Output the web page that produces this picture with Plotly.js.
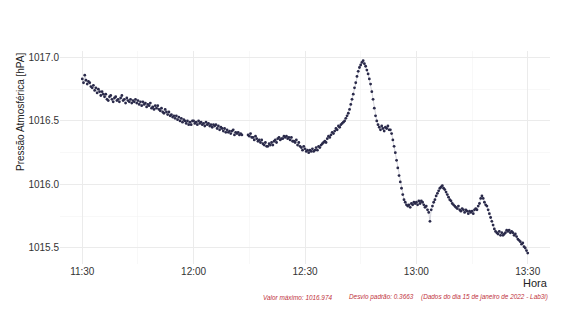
<!DOCTYPE html>
<html>
<head>
<meta charset="utf-8">
<script src="https://cdn.plot.ly/plotly-3.0.1.min.js"></script>
<style>
html,body{margin:0;padding:0;background:#fff;}
#chart{width:565px;height:317px;}
</style>
</head>
<body>
<div id="chart"></div>
<script>
// Sampling: one reading every 20 s starting 2022-01-15 11:30:00
var startDate = "2022-01-15";
var startHour = 11, startMinute = 30;
var intervalSeconds = 20;

// Pressure readings (hPa), 11:30 - 12:00
var p1130 = [
 1016.83,1016.80,1016.86, 1016.82,1016.79,1016.81, 1016.80,1016.77,1016.76, 1016.78,1016.74,1016.76,
 1016.72,1016.75,1016.73, 1016.70,1016.73,1016.71, 1016.69,1016.71,1016.67, 1016.66,1016.69,1016.70,
 1016.67,1016.65,1016.68, 1016.69,1016.66,1016.67, 1016.65,1016.68,1016.70, 1016.66,1016.67,1016.64,
 1016.68,1016.66,1016.65, 1016.67,1016.64,1016.66, 1016.65,1016.67,1016.64, 1016.66,1016.63,1016.65,
 1016.62,1016.65,1016.63, 1016.64,1016.61,1016.63, 1016.62,1016.64,1016.60, 1016.61,1016.59,1016.62,
 1016.60,1016.62,1016.59, 1016.58,1016.60,1016.57, 1016.56,1016.59,1016.57, 1016.55,1016.57,1016.54,
 1016.55,1016.53,1016.54, 1016.52,1016.54,1016.51, 1016.53,1016.50,1016.52, 1016.49,1016.51,1016.50,
 1016.48,1016.50,1016.47, 1016.49,1016.47,1016.50
];
// 12:00 - 12:30 (null = missing readings)
var p1200 = [
 1016.50,1016.48,1016.49, 1016.47,1016.50,1016.48, 1016.49,1016.47,1016.48, 1016.46,1016.49,1016.47,
 1016.48,1016.46,1016.47, 1016.45,1016.47,1016.46, 1016.47,1016.44,1016.46, 1016.43,1016.45,1016.44,
 1016.42,1016.44,1016.41, 1016.43,1016.41,1016.42, 1016.40,1016.42,1016.43, 1016.39,1016.41,1016.40,
 1016.41,1016.39,1016.40, 1016.39,null,null, null,null,1016.39, 1016.38,1016.40,1016.37,
 1016.37,1016.35,1016.38, 1016.36,1016.34,1016.35, 1016.33,1016.35,1016.32, 1016.31,1016.33,1016.30,
 1016.30,1016.32,1016.31, 1016.33,1016.31,1016.34, 1016.35,1016.33,1016.36, 1016.37,1016.35,1016.36,
 1016.36,1016.38,1016.37, 1016.38,1016.36,1016.37, 1016.35,1016.37,1016.34, 1016.34,1016.33,1016.35,
 1016.31,1016.33,1016.30, 1016.29,1016.27,1016.30
];
// 12:30 - 13:00
var p1230 = [
 1016.28,1016.26,1016.27, 1016.25,1016.27,1016.26, 1016.28,1016.26,1016.27, 1016.29,1016.27,1016.30,
 1016.29,1016.31,1016.32, 1016.33,1016.34,1016.33, 1016.36,1016.38,1016.37, 1016.39,1016.41,1016.40,
 1016.42,1016.44,1016.43, 1016.46,1016.45,1016.47, 1016.48,1016.49,1016.50, 1016.52,1016.54,1016.56,
 1016.59,1016.63,1016.67, 1016.71,1016.76,1016.80, 1016.85,1016.89,1016.92, 1016.94,1016.96,1016.974,
 1016.95,1016.93,1016.90, 1016.87,1016.83,1016.79, 1016.73,1016.67,1016.60, 1016.54,1016.50,1016.47,
 1016.45,1016.43,1016.46, 1016.44,1016.42,1016.45, 1016.44,1016.46,1016.43, 1016.43,1016.40,1016.35,
 1016.30,1016.25,1016.19, 1016.13,1016.07,1016.02, 1015.97,1015.92,1015.88, 1015.86,1015.84,1015.83,
 1015.84,1015.82,1015.85, 1015.84,1015.86,1015.85
];
// 13:00 - 13:30
var p1300 = [
 1015.86,1015.84,1015.87, 1015.85,1015.87,1015.86, 1015.84,1015.82,1015.83, 1015.80,1015.78,1015.71,
 1015.80,1015.83,1015.86, 1015.88,1015.91,1015.93, 1015.95,1015.97,1015.98, 1015.99,1015.97,1015.96,
 1015.94,1015.92,1015.90, 1015.88,1015.87,1015.85, 1015.84,1015.83,1015.82, 1015.81,1015.83,1015.80,
 1015.79,1015.81,1015.80, 1015.78,1015.80,1015.79, 1015.77,1015.79,1015.78, 1015.79,1015.77,1015.80,
 1015.81,1015.80,1015.83, 1015.85,1015.89,1015.91, 1015.89,1015.86,1015.84, 1015.83,1015.80,1015.77,
 1015.74,1015.71,1015.68, 1015.65,1015.63,1015.62, 1015.61,1015.63,1015.60, 1015.62,1015.60,1015.61,
 1015.62,1015.64,1015.63, 1015.64,1015.62,1015.63, 1015.62,1015.60,1015.61, 1015.59,1015.57,1015.56,
 1015.55,1015.53,1015.54, 1015.51,1015.50,1015.48, 1015.46
];

var captionMax = "Valor máximo: 1016.974";
var captionSd = "Desvio padrão: 0.3663";
var captionSource = "(Dados do dia 15 de janeiro de 2022 - Lab3i)";
var xTitle = "Hora";
var yTitle = "Pressão Atmosférica [hPA]";

var pressure = p1130.concat(p1200, p1230, p1300);
function pad(n){return (n<10?"0":"")+n;}
var times = pressure.map(function(_, i){
  var s = i*intervalSeconds;
  var totalMin = startHour*60 + startMinute + Math.floor(s/60);
  var sec = s % 60;
  return startDate + " " + pad(Math.floor(totalMin/60)) + ":" + pad(totalMin%60) + ":" + pad(sec);
});

var FONT = '"Liberation Sans", Arial, sans-serif';

var traces = [
  {x: times, y: pressure, type: 'scatter', mode: 'lines', connectgaps: false,
   line: {color: '#b8b8c4', width: 0.6}, hoverinfo: 'skip', showlegend: false},
  {x: times, y: pressure, type: 'scatter', mode: 'markers',
   marker: {color: '#2a2a4a', size: 2.8}, showlegend: false}
];

var panelTop = 51, panelBottom = 264, panelH = panelBottom - panelTop;
function py(px){ return (panelBottom - px)/panelH; }
function pxX(px){ return (px - 60)/490; }

var layout = {
  width: 565, height: 317,
  margin: {l: 60, r: 15, t: panelTop, b: 317 - panelBottom},
  paper_bgcolor: '#ffffff', plot_bgcolor: '#ffffff',
  font: {family: FONT, size: 10, color: '#333333'},
  showlegend: false,
  xaxis: {
    type: 'date',
    range: [startDate + ' 11:24:00', startDate + ' 13:36:00'],
    tick0: startDate + ' 11:30:00', dtick: 1800000, tickformat: '%H:%M',
    showgrid: true, gridcolor: '#ebebeb', gridwidth: 1,
    minor: {dtick: 900000, showgrid: true, gridcolor: '#f3f3f3', gridwidth: 0.6},
    zeroline: false, showline: false, ticks: '',
    tickfont: {family: FONT, size: 10, color: '#333333'}
  },
  yaxis: {
    range: [1015.374, 1017.05],
    dtick: 0.5, tick0: 1015.5, tickformat: '.1f',
    showgrid: true, gridcolor: '#ebebeb', gridwidth: 1,
    minor: {dtick: 0.25, showgrid: true, gridcolor: '#f3f3f3', gridwidth: 0.6},
    zeroline: false, showline: false, ticks: '',
    tickfont: {family: FONT, size: 10, color: '#333333'}
  },
  annotations: [
    {text: yTitle, xref: 'paper', yref: 'paper', x: pxX(20), y: 1, xanchor: 'center', yanchor: 'top',
     textangle: -90, showarrow: false, font: {family: FONT, size: 10, color: '#222222'}},
    {text: xTitle, xref: 'paper', yref: 'paper', x: 1, y: py(283), xanchor: 'right', yanchor: 'middle',
     showarrow: false, font: {family: FONT, size: 11, color: '#222222'}},
    {text: '<i>' + captionSource + '</i>', xref: 'paper', yref: 'paper', x: 1, y: py(297), xanchor: 'right', yanchor: 'middle',
     showarrow: false, font: {family: FONT, size: 6.4, color: '#c0303a'}},
    {text: '<i>' + captionSd + '</i>', xref: 'paper', yref: 'paper', x: pxX(416), y: py(297), xanchor: 'right', yanchor: 'middle',
     showarrow: false, font: {family: FONT, size: 6.4, color: '#c0303a'}},
    {text: '<i>' + captionMax + '</i>', xref: 'paper', yref: 'paper', x: pxX(261), y: py(297), xanchor: 'left', yanchor: 'middle',
     showarrow: false, font: {family: FONT, size: 6.4, color: '#c0303a'}}
  ]
};

Plotly.newPlot('chart', traces, layout, {displayModeBar: false, staticPlot: true});
</script>
</body>
</html>
